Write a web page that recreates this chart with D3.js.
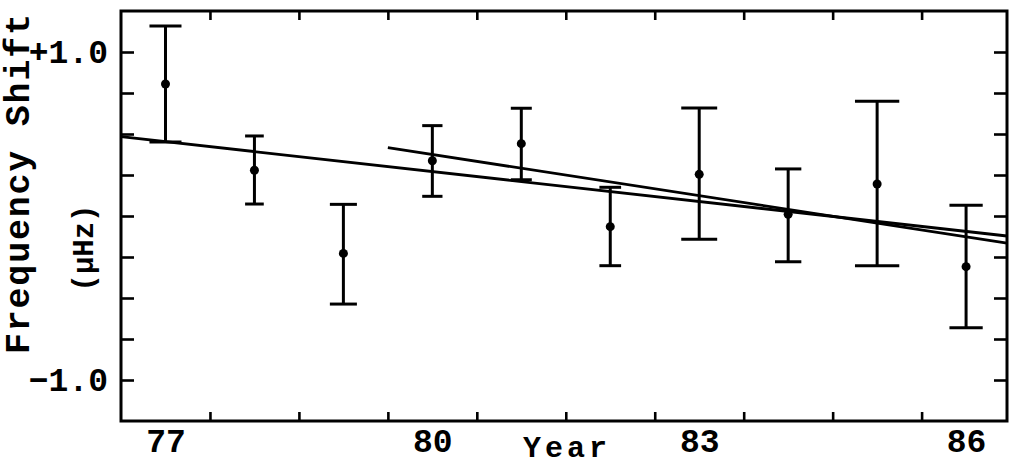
<!DOCTYPE html>
<html>
<head>
<meta charset="utf-8">
<script src="https://d3js.org/d3.v7.min.js"></script>
<style>
  html, body { margin: 0; padding: 0; background: #fff; }
  svg { display: block; }
  text { font-family: "Liberation Mono", "DejaVu Sans Mono", monospace; font-weight: bold; fill: #000; }
</style>
</head>
<body>
<svg id="chart" width="1014" height="466"></svg>
<script>
// ---- data ----
const years    = [77, 78, 79, 80, 81, 82, 83, 84, 85, 86];
const shift    = [0.805, 0.279, -0.228, 0.337, 0.441, -0.065, 0.254, 0.010, 0.195, -0.309];
const errHigh  = [1.159, 0.488, 0.071, 0.551, 0.657, 0.175, 0.659, 0.287, 0.699, 0.065];
const errLow   = [0.451, 0.073, -0.537, 0.120, 0.221, -0.303, -0.142, -0.279, -0.303, -0.681];
const capHalf  = [0.18, 0.105, 0.152, 0.114, 0.118, 0.122, 0.202, 0.148, 0.249, 0.187]; // years
const fitAYears = [76.5, 86.46];
const fitAShift = [0.484, -0.122];
const fitBYears = [79.5, 86.46];
const fitBShift = [0.417, -0.166];
const xMinorTicks = [77.5, 78.5, 79.5, 80.5, 81.5, 82.5, 83.5, 84.5, 85.5];
const xLabelTicks = [77, 80, 83, 86];
const yTicks = [-1.0, -0.75, -0.5, -0.25, 0, 0.25, 0.5, 0.75, 1.0];
const yLabelTicks = [-1.0, 1.0];
const yLabelText = ["\u22121.0", "+1.0"];
const xTitle = "Year";
const yTitle1 = "Frequency Shift";
const yTitle2 = "(\u03bcHz)";

// ---- layout ----
const L = 121, R = 1007, T = 11, B = 421;
const svg = d3.select("#chart");
const x = d3.scaleLinear().domain([76.5, 86.46]).range([L, R]);
const y = d3.scaleLinear().domain([-1.25, 1.25]).range([B, T]);

const tickStyle = g => {
  g.select(".domain").remove();
  g.selectAll(".tick line").attr("stroke", "#000").attr("stroke-width", 2.6);
};

// inward tick marks
svg.append("g").attr("transform", `translate(0,${B})`)
  .call(d3.axisBottom(x).tickValues(xMinorTicks).tickSize(-9).tickFormat(""))
  .call(tickStyle);
svg.append("g").attr("transform", `translate(0,${T})`)
  .call(d3.axisTop(x).tickValues(xMinorTicks).tickSize(-9).tickFormat(""))
  .call(tickStyle);
svg.append("g").attr("transform", `translate(${L},0)`)
  .call(d3.axisLeft(y).tickValues(yTicks).tickSize(-13).tickFormat(""))
  .call(tickStyle);
svg.append("g").attr("transform", `translate(${R},0)`)
  .call(d3.axisRight(y).tickValues(yTicks).tickSize(-13).tickFormat(""))
  .call(tickStyle);

// labels
const xl = svg.append("g").attr("transform", `translate(0,${B})`)
  .call(d3.axisBottom(x).tickValues(xLabelTicks).tickSize(0).tickPadding(31).tickFormat(d3.format("d")));
xl.select(".domain").remove();
xl.selectAll("text").attr("font-size", 33).attr("font-family", "Liberation Mono").attr("font-weight", "bold").attr("dy", 0).attr("fill", "#000");

const yl = svg.append("g").attr("transform", `translate(${L},0)`)
  .call(d3.axisLeft(y).tickValues(yLabelTicks).tickSize(0).tickPadding(13)
    .tickFormat(d => yLabelText[yLabelTicks.indexOf(d)]));
yl.select(".domain").remove();
yl.selectAll("text").attr("font-size", 33).attr("font-family", "Liberation Mono").attr("font-weight", "bold").attr("fill", "#000");

// frame
svg.append("rect").attr("x", L).attr("y", T).attr("width", R - L).attr("height", B - T)
  .attr("fill", "none").attr("stroke", "#000").attr("stroke-width", 3);

// fit lines
const line = d3.line().x(d => x(d[0])).y(d => y(d[1]));
svg.append("path").attr("d", line(fitAYears.map((v, i) => [v, fitAShift[i]])))
  .attr("fill", "none").attr("stroke", "#000").attr("stroke-width", 2.8);
svg.append("path").attr("d", line(fitBYears.map((v, i) => [v, fitBShift[i]])))
  .attr("fill", "none").attr("stroke", "#000").attr("stroke-width", 2.8);

// error bars
const pts = years.map((yr, i) => ({yr, v: shift[i], hi: errHigh[i], lo: errLow[i], c: capHalf[i]}));
const eb = svg.append("g").attr("stroke", "#000").attr("stroke-width", 3);
eb.selectAll(".v").data(pts).join("line")
  .attr("x1", d => x(d.yr)).attr("x2", d => x(d.yr))
  .attr("y1", d => y(d.hi)).attr("y2", d => y(d.lo));
eb.selectAll(".ct").data(pts).join("line")
  .attr("x1", d => x(d.yr - d.c)).attr("x2", d => x(d.yr + d.c))
  .attr("y1", d => y(d.hi)).attr("y2", d => y(d.hi));
eb.selectAll(".cb").data(pts).join("line")
  .attr("x1", d => x(d.yr - d.c)).attr("x2", d => x(d.yr + d.c))
  .attr("y1", d => y(d.lo)).attr("y2", d => y(d.lo));
svg.append("g").selectAll("circle").data(pts).join("circle")
  .attr("cx", d => x(d.yr)).attr("cy", d => y(d.v)).attr("r", 4.5).attr("fill", "#000");

// titles
svg.append("text").attr("x", 565).attr("y", 457).attr("text-anchor", "middle")
  .attr("font-size", 30).attr("textLength", 84).attr("lengthAdjust", "spacing").text(xTitle);
svg.append("text").attr("transform", "translate(29,184) rotate(-90)").attr("text-anchor", "middle")
  .attr("font-size", 35).attr("textLength", 340).attr("lengthAdjust", "spacing").text(yTitle1);
svg.append("text").attr("transform", "translate(93,248) rotate(-90)").attr("text-anchor", "middle")
  .attr("font-size", 29).text(yTitle2);
</script>
</body>
</html>
